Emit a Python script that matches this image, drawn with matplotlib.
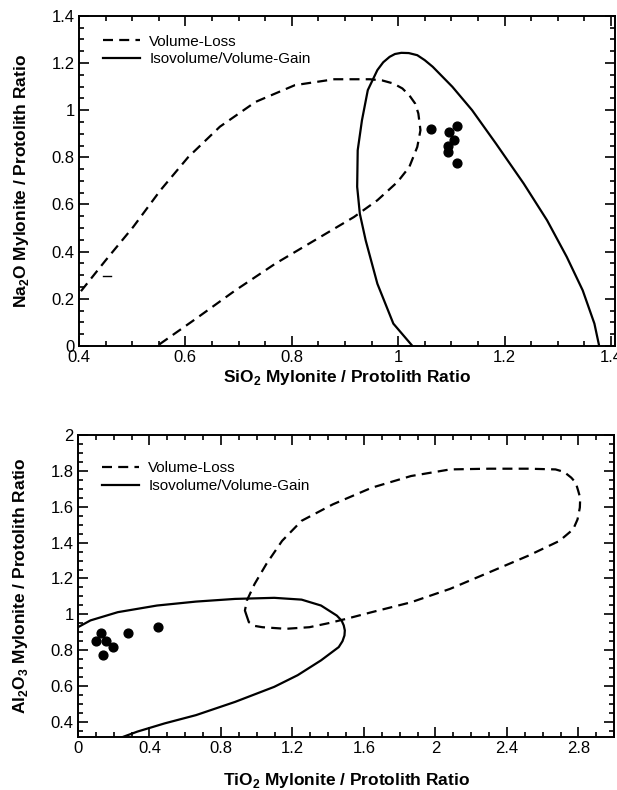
import matplotlib
matplotlib.use("Agg")
from matplotlib import pyplot as plt
from matplotlib.ticker import MultipleLocator

plt.rcParams['font.family'] = ['Liberation Sans', 'DejaVu Sans']
plt.rcParams['mathtext.fontset'] = 'custom'
plt.rcParams['mathtext.rm'] = 'Liberation Sans'
plt.rcParams['mathtext.bf'] = 'Liberation Sans:bold'

# ---- top panel: SiO2 vs Na2O ----
sio2_loss_x = [0.38, 0.40, 0.45, 0.502, 0.553, 0.605, 0.665, 0.732, 0.806, 0.88, 0.947, 0.97,
               0.991, 1.008, 1.021, 1.032, 1.038, 1.042, 1.036, 1.021, 0.999, 0.961, 0.917,
               0.843, 0.769, 0.694, 0.62, 0.553, 0.55]
na2o_loss_y = [0.19, 0.222, 0.363, 0.505, 0.66, 0.80, 0.93, 1.035, 1.106, 1.131, 1.131, 1.126,
               1.113, 1.092, 1.063, 1.028, 0.986, 0.915, 0.844, 0.759, 0.696, 0.618, 0.547,
               0.448, 0.349, 0.236, 0.116, 0.01, 0.0]
sio2_gain_x = [1.027, 0.991, 0.961, 0.939, 0.928, 0.923, 0.924, 0.932, 0.943, 0.961, 0.972,
               0.984, 0.994, 1.006, 1.02, 1.036, 1.05, 1.065, 1.102, 1.139, 1.184, 1.236,
               1.28, 1.317, 1.347, 1.369, 1.378]
na2o_gain_y = [0.0, 0.095, 0.264, 0.448, 0.561, 0.675, 0.830, 0.957, 1.085, 1.170, 1.203,
               1.226, 1.238, 1.243, 1.242, 1.233, 1.212, 1.184, 1.099, 1.0, 0.858, 0.689,
               0.533, 0.378, 0.236, 0.095, 0.0]
sio2_pts = [1.061, 1.095, 1.111, 1.105, 1.093, 1.093, 1.110]
na2o_pts = [0.918, 0.908, 0.932, 0.875, 0.847, 0.823, 0.778]
stray_x = [0.445, 0.46]
stray_y = [0.295, 0.295]

# ---- bottom panel: TiO2 vs Al2O3 ----
tio2_loss_x = [0.94, 0.956, 0.99, 1.032, 1.163, 1.295, 1.404, 1.502, 1.644, 1.863, 2.082, 2.30,
               2.519, 2.694, 2.771, 2.795, 2.808, 2.81, 2.799, 2.785, 2.76, 2.72, 2.672, 2.519,
               2.30, 2.082, 1.863, 1.644, 1.426, 1.251, 1.142, 1.054, 0.988, 0.945, 0.934, 0.94]
al2o3_loss_y = [1.003, 0.956, 0.935, 0.928, 0.919, 0.928, 0.951, 0.975, 1.012, 1.067, 1.142,
                1.234, 1.327, 1.41, 1.475, 1.53, 1.596, 1.65, 1.689, 1.735, 1.763, 1.795,
                1.809, 1.813, 1.813, 1.809, 1.772, 1.707, 1.614, 1.522, 1.41, 1.281, 1.169,
                1.077, 1.021, 1.003]
tio2_gain_x = [0.0, 0.07, 0.223, 0.442, 0.66, 0.879, 1.098, 1.251, 1.36, 1.448, 1.475, 1.487,
               1.493, 1.491, 1.48, 1.459, 1.36, 1.229, 1.098, 0.879, 0.66, 0.485, 0.332,
               0.245, 0.2]
al2o3_gain_y = [0.928, 0.966, 1.012, 1.049, 1.071, 1.086, 1.092, 1.082, 1.049, 0.993, 0.965,
                0.938, 0.91, 0.882, 0.85, 0.817, 0.743, 0.66, 0.595, 0.511, 0.437, 0.391,
                0.345, 0.313, 0.29]
tio2_pts = [0.098, 0.129, 0.157, 0.195, 0.14, 0.282, 0.45]
al2o3_pts = [0.851, 0.895, 0.851, 0.817, 0.771, 0.895, 0.928]


def style_axes(ax, xmaj, xmin, ymaj, ymin):
    ax.xaxis.set_major_locator(MultipleLocator(xmaj))
    ax.xaxis.set_minor_locator(MultipleLocator(xmin))
    ax.yaxis.set_major_locator(MultipleLocator(ymaj))
    ax.yaxis.set_minor_locator(MultipleLocator(ymin))
    ax.xaxis.set_major_formatter(plt.FuncFormatter(lambda v, p: ('%g' % round(v, 3))))
    ax.yaxis.set_major_formatter(plt.FuncFormatter(lambda v, p: ('%g' % round(v, 3))))
    ax.tick_params(which='both', direction='in', top=True, right=True, width=1.2,
                   labelsize=12, pad=3)
    ax.tick_params(which='major', length=7)
    ax.tick_params(which='minor', length=3.5)
    for s in ax.spines.values():
        s.set_linewidth(1.4)


def main():
    fig = plt.figure(figsize=(6.17, 7.90), dpi=100)
    dash = (4.5, 2.8)

    ax1 = fig.add_axes([0.128, 0.562, 0.869, 0.418])
    ax1.plot(sio2_loss_x, na2o_loss_y, color='black', lw=1.6, dashes=dash, label='Volume-Loss')
    ax1.plot(sio2_gain_x, na2o_gain_y, color='black', lw=1.6, label='Isovolume/Volume-Gain')
    ax1.plot(stray_x, stray_y, color='black', lw=1.0)
    ax1.scatter(sio2_pts, na2o_pts, s=40, color='black', zorder=3)
    ax1.set_xlim(0.4, 1.408)
    ax1.set_ylim(0, 1.4)
    style_axes(ax1, 0.2, 0.05, 0.2, 0.05)
    ax1.set_xlabel(r'SiO$_\mathbf{2}$ Mylonite / Protolith Ratio', fontsize=12.5, fontweight='bold')
    ax1.set_ylabel(r'Na$_\mathbf{2}$O Mylonite / Protolith Ratio', fontsize=12.5, fontweight='bold')
    ax1.yaxis.set_label_coords(-0.09, 0.5)
    ax1.xaxis.set_label_coords(0.5, -0.068)
    ax1.legend(loc='upper left', bbox_to_anchor=(0.02, 0.985), frameon=False, fontsize=11,
               handlelength=2.4, handletextpad=0.6, labelspacing=0.25)

    ax2 = fig.add_axes([0.1264, 0.0671, 0.869, 0.382])
    ax2.plot(tio2_loss_x, al2o3_loss_y, color='black', lw=1.6, dashes=dash, label='Volume-Loss')
    ax2.plot(tio2_gain_x, al2o3_gain_y, color='black', lw=1.6, label='Isovolume/Volume-Gain')
    ax2.scatter(tio2_pts, al2o3_pts, s=40, color='black', zorder=3)
    ax2.set_xlim(0, 3.0)
    ax2.set_ylim(0.315, 2.0)
    style_axes(ax2, 0.4, 0.1, 0.2, 0.05)
    ax2.set_xlabel(r'TiO$_\mathbf{2}$ Mylonite / Protolith Ratio', fontsize=12.5, fontweight='bold')
    ax2.set_ylabel(r'Al$_\mathbf{2}$O$_\mathbf{3}$ Mylonite / Protolith Ratio', fontsize=12.5,
                   fontweight='bold')
    ax2.yaxis.set_label_coords(-0.09, 0.5)
    ax2.xaxis.set_label_coords(0.5, -0.112)
    ax2.legend(loc='upper left', bbox_to_anchor=(0.02, 0.96), frameon=False, fontsize=11,
               handlelength=2.4, handletextpad=0.6, labelspacing=0.25)

    fig.savefig("out.png", dpi=100)


if __name__ == "__main__":
    main()
